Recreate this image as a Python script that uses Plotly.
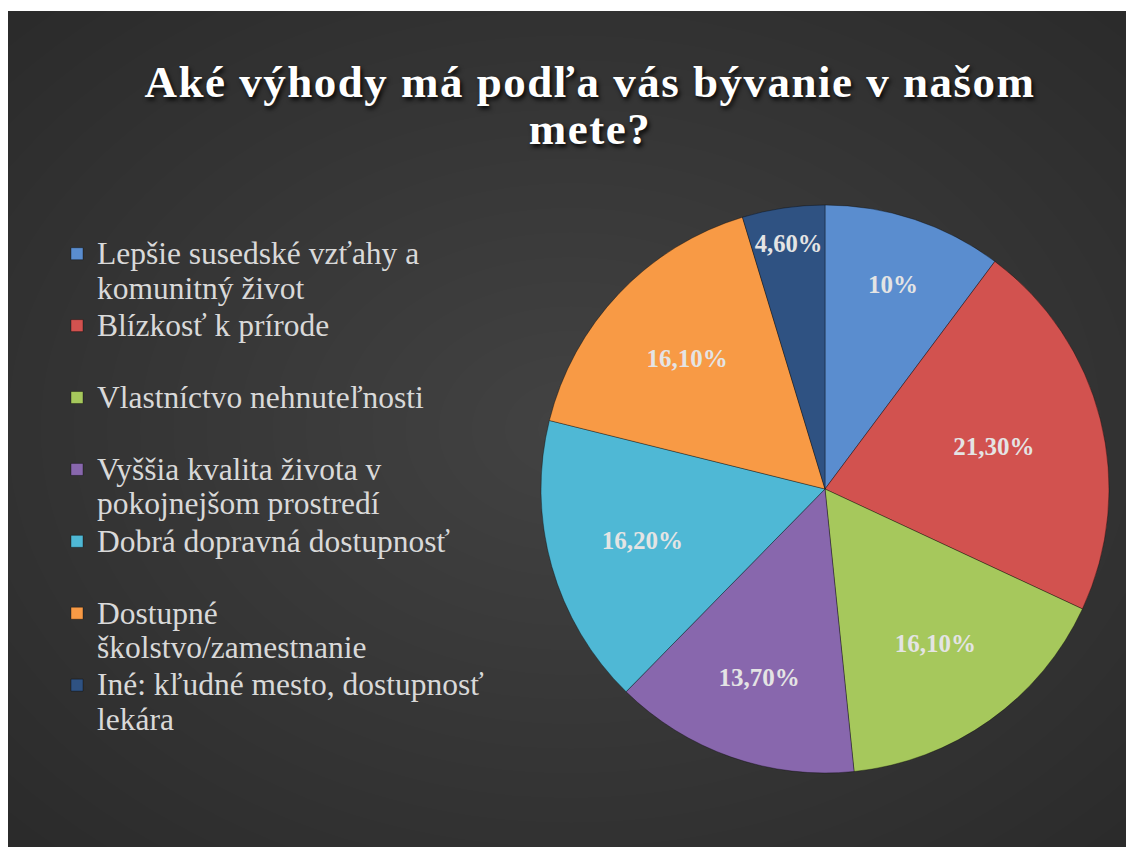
import plotly.graph_objects as go

# ---- data ----
legend_lines = [
    ["Lepšie susedské vzťahy a", "komunitný život"],
    ["Blízkosť k prírode", "\u00a0"],
    ["Vlastníctvo nehnuteľnosti", "\u00a0"],
    ["Vyššia kvalita života v", "pokojnejšom prostredí"],
    ["Dobrá dopravná dostupnosť", "\u00a0"],
    ["Dostupné", "školstvo/zamestnanie"],
    ["Iné: kľudné mesto, dostupnosť", "lekára"],
]
values = [10.0, 21.3, 16.1, 13.7, 16.2, 16.1, 4.6]
value_labels = ["10%", "21,30%", "16,10%", "13,70%", "16,20%", "16,10%", "4,60%"]
colors = ["#5a8dcf", "#d2524f", "#a6c85c", "#8867ad", "#4fb8d5", "#f89a45", "#2f5282"]
title_lines = ["Aké výhody má podľa vás bývanie v našom", "mete?"]

W, H = 1134, 847
SERIF = "Liberation Serif"


def big(s, style):
    return f'<span style="{style}">{s}</span>'


categories = ["<br>".join(big(l, "font-size:31.5px") for l in lines) for lines in legend_lines]
title_text = "<br>".join(big(l, "font-size:45px;letter-spacing:1.5px") for l in title_lines)

fig = go.Figure()
fig.add_trace(go.Pie(
    labels=categories,
    values=values,
    text=value_labels,
    textinfo="text",
    textposition="inside",
    insidetextorientation="horizontal",
    sort=False,
    direction="clockwise",
    rotation=0,
    marker=dict(colors=colors, line=dict(color="rgba(0,0,0,0.35)", width=1)),
    textfont=dict(family=SERIF, size=25, color="#e4e4e4", weight="bold"),
    domain=dict(x=[(817 - 284) / W, (817 + 284) / W],
                y=[(H - 481 - 284) / H, (H - 481 + 284) / H]),
    hoverinfo="percent",
))

# background: radial light gradient over dark paper
shapes = []
cx, cy = 563, 421
N = 24
for k in range(N, 0, -1):
    s = k / N
    a, b = 796 * s, 591 * s
    shapes.append(dict(type="circle", xref="paper", yref="paper",
                       x0=(cx - a) / W, x1=(cx + a) / W,
                       y0=1 - (cy + b) / H, y1=1 - (cy - b) / H,
                       fillcolor="rgba(255,255,255,0.0095)", line=dict(width=0), layer="below"))
# thin white strip at top
shapes.append(dict(type="rect", xref="paper", yref="paper", x0=-0.1, x1=1.1, y0=1 - 3 / H, y1=1.1,
                   fillcolor="white", line=dict(width=0), layer="below"))

fig.update_layout(
    width=W, height=H,
    margin=dict(l=0, r=0, t=0, b=0),
    paper_bgcolor="#2a2a2a",
    plot_bgcolor="rgba(0,0,0,0)",
    shapes=shapes,
    title=dict(
        text=title_text,
        x=582 / W, xanchor="center",
        y=1 - 89 / H, yanchor="middle", yref="container",
        font=dict(family=SERIF, size=36, color="white", weight="bold",
                  shadow="2px 3px 4px rgba(0,0,0,0.85)"),
    ),
    showlegend=True,
    legend=dict(
        x=49 / W, xanchor="left",
        y=1 - 222 / H, yanchor="top",
        bgcolor="rgba(0,0,0,0)",
        valign="top",
        font=dict(family=SERIF, size=26.5, color="#d9d9d9"),
        tracegroupgap=0,
    ),
)

fig.write_html("out.html")
